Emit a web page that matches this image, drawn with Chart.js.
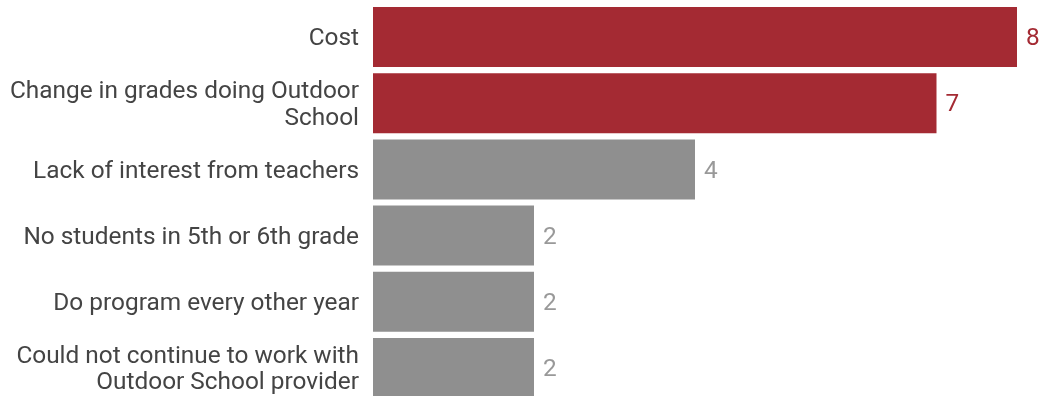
<!DOCTYPE html>
<html>
<head>
<meta charset="utf-8">
<script src="https://cdn.jsdelivr.net/npm/chart.js"></script>
<style>
  html, body { margin: 0; padding: 0; background: #fff; overflow: hidden; }
  #wrap { width: 1046px; height: 402px; }
</style>
</head>
<body>
<div id="wrap"><canvas id="reasons" width="1046" height="402"></canvas></div>
<script>
// reasons schools gave, count of responses
const categories = [
  'Cost',
  ['Change in grades doing Outdoor', 'School'],
  'Lack of interest from teachers',
  'No students in 5th or 6th grade',
  'Do program every other year',
  ['Could not continue to work with', 'Outdoor School provider']
];
const counts = [8, 7, 4, 2, 2, 2];
const highlighted = [true, true, false, false, false, false];

const RED = '#a42a33';
const GREY = '#8f8f8f';
const barColors = highlighted.map(h => h ? RED : GREY);
const labelColors = highlighted.map(h => h ? RED : '#999999');

// value labels just past the end of each bar
const valueLabels = {
  id: 'valueLabels',
  afterDatasetsDraw(chart) {
    const ctx = chart.ctx;
    const meta = chart.getDatasetMeta(0);
    ctx.save();
    ctx.font = '24.4px Roboto';
    ctx.textBaseline = 'middle';
    ctx.textAlign = 'left';
    meta.data.forEach((bar, i) => {
      ctx.fillStyle = labelColors[i];
      ctx.fillText(String(counts[i]), bar.x + 9, bar.y + 2);
    });
    ctx.restore();
  }
};

new Chart(document.getElementById('reasons'), {
  type: 'bar',
  data: {
    labels: categories,
    datasets: [{
      data: counts,
      backgroundColor: barColors,
      borderWidth: 0,
      barPercentage: 0.906,
      categoryPercentage: 1
    }]
  },
  options: {
    indexAxis: 'y',
    responsive: false,
    animation: false,
    layout: { padding: { top: 4, right: 29, bottom: 1, left: 0 } },
    plugins: {
      legend: { display: false },
      tooltip: { enabled: false }
    },
    scales: {
      x: { display: false, min: 0, max: 8 },
      y: {
        grid: { display: false, drawTicks: false },
        border: { display: false },
        afterFit(scale) {
          scale.width = 373;
          // labels sit inside their bands, no extra room needed above/below
          scale.paddingTop = 0;
          scale.paddingBottom = 0;
        },
        ticks: {
          color: '#444444',
          padding: 14,
          labelOffset: 2,
          font: { family: 'Roboto', size: 24.4, lineHeight: 1.09 }
        }
      }
    }
  },
  plugins: [valueLabels]
});
</script>
</body>
</html>
